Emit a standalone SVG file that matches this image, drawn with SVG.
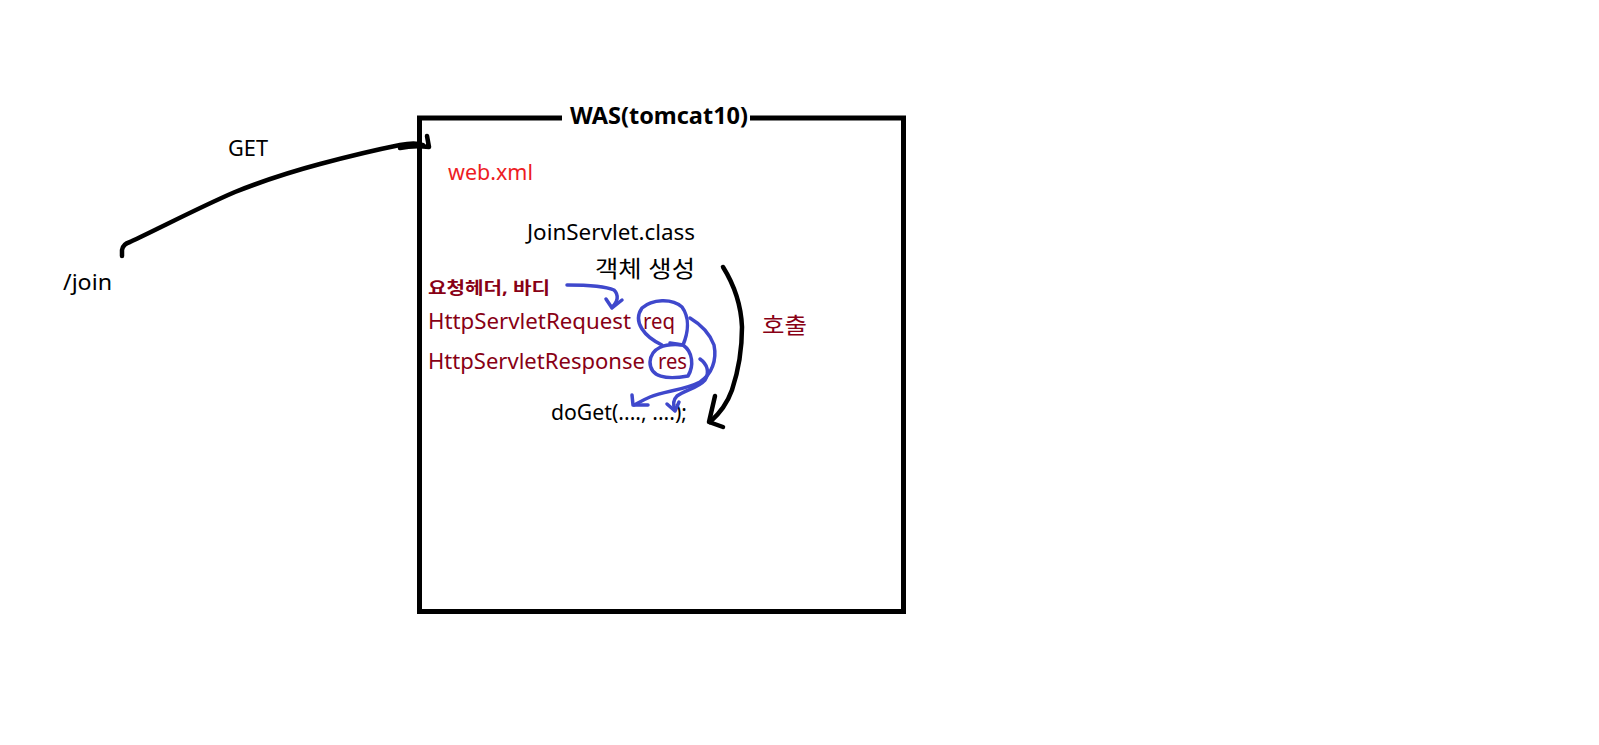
<svg xmlns="http://www.w3.org/2000/svg" width="1599" height="745" viewBox="0 0 1599 745">
<style>
  .t { font-family: "Noto Sans", "Noto Sans CJK KR", sans-serif; }
  .blk { fill: #000; }
  .red { fill: #ED1C24; }
  .dred { fill: #880015; }
  .ink { fill: none; stroke: #000; stroke-width: 4.5; stroke-linecap: round; stroke-linejoin: round; }
  .blue { fill: none; stroke: #3F48CC; stroke-width: 3.5; stroke-linecap: round; stroke-linejoin: round; }
</style>
<rect width="1599" height="745" fill="#fff"/>

<g id="was">
  <rect x="419.5" y="118" width="484" height="493.5" fill="none" stroke="#000" stroke-width="5"/>
  <rect x="562" y="108" width="188" height="18" fill="#fff"/>
  <text class="t blk" x="570" y="124" font-size="24" font-weight="bold" textLength="178" lengthAdjust="spacingAndGlyphs">WAS(tomcat10)</text>
</g>

<g id="join">
  <text class="t blk" x="63" y="290" font-size="21" textLength="49" lengthAdjust="spacingAndGlyphs">/join</text>
</g>

<g id="get-label">
  <text class="t blk" x="228" y="156" font-size="21" textLength="40" lengthAdjust="spacingAndGlyphs">GET</text>
</g>

<g id="webxml">
  <text class="t red" x="448" y="180" font-size="21" textLength="85" lengthAdjust="spacingAndGlyphs">web.xml</text>
</g>

<g id="joinservlet">
  <text class="t blk" x="527" y="240" font-size="21" textLength="168" lengthAdjust="spacingAndGlyphs">JoinServlet.class</text>
  <text class="t blk" x="595" y="277" font-size="23" textLength="100" lengthAdjust="spacingAndGlyphs">객체 생성</text>
</g>

<g id="header-body">
  <text class="t dred" x="428" y="294" font-size="17" font-weight="bold" textLength="122" lengthAdjust="spacingAndGlyphs">요청헤더, 바디</text>
</g>

<g id="request">
  <text class="t dred" x="428" y="329" font-size="22" textLength="203" lengthAdjust="spacingAndGlyphs">HttpServletRequest</text>
  <text class="t dred" x="643" y="329" font-size="22" textLength="32" lengthAdjust="spacingAndGlyphs">req</text>
</g>

<g id="response">
  <text class="t dred" x="428" y="369" font-size="22" textLength="217" lengthAdjust="spacingAndGlyphs">HttpServletResponse</text>
  <text class="t dred" x="658" y="369" font-size="22" textLength="29" lengthAdjust="spacingAndGlyphs">res</text>
</g>

<g id="doget">
  <text class="t blk" x="551" y="420" font-size="21" textLength="136" lengthAdjust="spacingAndGlyphs">doGet(...., ....);</text>
</g>

<g id="call-label">
  <text class="t dred" x="762" y="333" font-size="22" textLength="45" lengthAdjust="spacingAndGlyphs">호출</text>
</g>

<g id="connectors">
  <!-- GET arrow -->
  <path class="ink" d="M122,256 L122,250 Q123,244 130,242 C160,228 200,207 235,192 C265,180 290,172 320,164 C350,156 380,149 400,145 C410,143 418,143 423,145"/>
  <path class="ink" d="M400,148 C410,146 420,146 429,147 L427,136"/>
  <!-- 호출 arrow -->
  <path class="ink" d="M723,267 C733,283 741,303 742,327 C742,350 738,372 732,390 C727,404 718,415 710,422"/>
  <path class="ink" d="M715,396 L709,422 L723,427"/>
  <!-- 요청헤더 arrow to req -->
  <path class="blue" d="M567,285 C585,285 605,286 614,290 C619,295 618,302 612,307"/>
  <path class="blue" d="M606,299 L612,308 L622,300"/>
  <!-- loops around req and res -->
  <path class="blue" d="M662,345 C645,337 632,322 642,308 C652,299 672,298 682,307 C690,318 688,333 683,345 L670,343"/>
  <path class="blue" d="M683,345 C664,343 651,348 650,362 C650,377 666,380 688,376 C694,366 693,352 683,345"/>
  <!-- req to first arg -->
  <path class="blue" d="M690,318 C700,324 710,334 714,345 C717,360 712,374 700,382 C685,390 665,391 650,397 C643,400 638,403 634,405"/>
  <path class="blue" d="M632,395 L633,405 L648,405"/>
  <!-- res to second arg -->
  <path class="blue" d="M700,359 C707,364 710,372 705,380 C698,388 685,390 677,396 C673,400 673,405 675,410"/>
  <path class="blue" d="M667,404 L675,411 L679,402"/>
</g>
</svg>
